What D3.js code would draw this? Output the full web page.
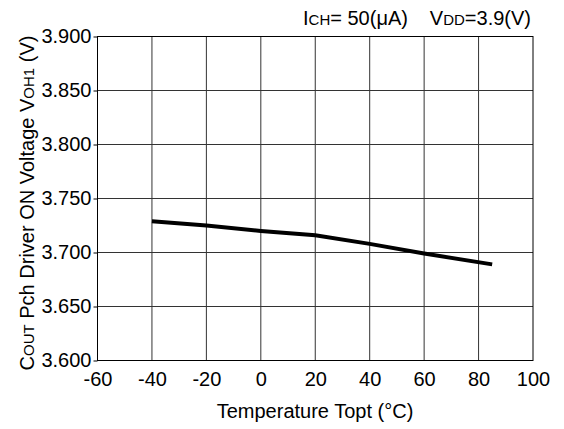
<!DOCTYPE html>
<html><head><meta charset="utf-8">
<script src="https://cdn.jsdelivr.net/npm/d3@7"></script>
<style>body{margin:0;background:#fff}svg{display:block}text{font-family:"Liberation Sans",Arial,sans-serif;fill:#000}</style>
</head><body><svg id="c" width="564" height="429"></svg>
<script>
const temps = [-40, -20, 0, 20, 40, 60, 85];
const voh1 = [3.729, 3.725, 3.720, 3.716, 3.708, 3.699, 3.689];
const xTicks = [-60, -40, -20, 0, 20, 40, 60, 80, 100];
const yTicks = [3.600, 3.650, 3.700, 3.750, 3.800, 3.850, 3.900];

const svg = d3.select("#c");
const L = 97.5, R = 533, T = 36.5, B = 360.5;
const FS = 20, SS = 15;
const x = d3.scaleLinear().domain([-60, 100]).range([L, R]);
const y = d3.scaleLinear().domain([3.6, 3.9]).range([B, T]);

// grid
svg.append("g").selectAll("line").data(xTicks.slice(1, -1)).join("line")
  .attr("x1", d => x(d)).attr("x2", d => x(d)).attr("y1", T).attr("y2", B)
  .attr("stroke", "#333").attr("stroke-width", 1);
svg.append("g").selectAll("line").data(yTicks.slice(1, -1)).join("line")
  .attr("x1", L).attr("x2", R).attr("y1", d => y(d)).attr("y2", d => y(d))
  .attr("stroke", "#333").attr("stroke-width", 1);

// y axis
const ya = svg.append("g").attr("transform", `translate(${L},0)`)
  .call(d3.axisLeft(y).tickValues(yTicks).tickFormat(d3.format(".3f")).tickSize(4).tickPadding(2));
ya.select(".domain").remove();
ya.selectAll("line").attr("stroke", "#000");
ya.selectAll("text").attr("font-size", FS).attr("font-family", "Liberation Sans, Arial, sans-serif");

// x axis
const xa = svg.append("g").attr("transform", `translate(0,${B})`)
  .call(d3.axisBottom(x).tickValues(xTicks).tickFormat(d => String(d)).tickSize(0).tickPadding(11));
xa.select(".domain").remove();
xa.selectAll("text").attr("font-size", FS).attr("font-family", "Liberation Sans, Arial, sans-serif");

// frame
svg.append("rect").attr("x", L).attr("y", T).attr("width", R - L).attr("height", B - T)
  .attr("fill", "none").attr("stroke", "#000").attr("stroke-width", 1);

// data line
svg.append("path").datum(temps.map((t, i) => [t, voh1[i]]))
  .attr("d", d3.line().x(d => x(d[0])).y(d => y(d[1])))
  .attr("fill", "none").attr("stroke", "#000").attr("stroke-width", 4);

// x label
svg.append("text").attr("x", 315).attr("y", 418).attr("text-anchor", "middle").attr("font-size", FS)
  .text("Temperature Topt (°C)");

// y label
const yl = svg.append("text").attr("transform", "translate(34,203) rotate(-90)").attr("text-anchor", "middle").attr("font-size", FS);
yl.append("tspan").text("C");
yl.append("tspan").attr("font-size", SS).text("OUT");
yl.append("tspan").text(" Pch Driver ON Voltage V");
yl.append("tspan").attr("font-size", SS).text("OH1");
yl.append("tspan").text(" (V)");

// conditions
const c1 = svg.append("text").attr("x", 303).attr("y", 25).attr("font-size", FS);
c1.append("tspan").text("I");
c1.append("tspan").attr("font-size", SS).text("CH");
c1.append("tspan").text("= 50(μA)");
const c2 = svg.append("text").attr("x", 531).attr("y", 25).attr("text-anchor", "end").attr("font-size", FS);
c2.append("tspan").text("V");
c2.append("tspan").attr("font-size", SS).text("DD");
c2.append("tspan").text("=3.9(V)");
</script></body></html>
